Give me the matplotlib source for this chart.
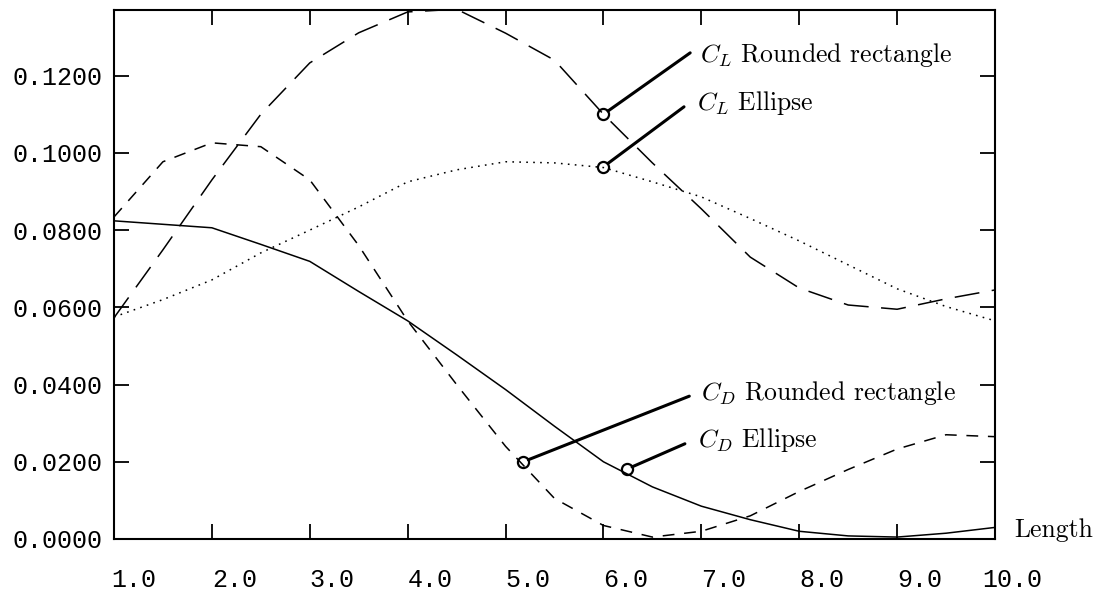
import matplotlib
matplotlib.use("Agg")
import matplotlib.pyplot as plt
import matplotlib.transforms as mtransforms

plt.rcParams['mathtext.fontset'] = 'cm'
plt.rcParams['lines.scale_dashes'] = False

# Data
length = [1.0, 1.5, 2.0, 2.5, 3.0, 3.5, 4.0, 4.5, 5.0, 5.5, 6.0, 6.5, 7.0, 7.5, 8.0, 8.5, 9.0, 9.5, 10.0]
cl_rounded = [0.0573, 0.0749, 0.0930, 0.1100, 0.1233, 0.1311, 0.1365, 0.1372, 0.1310, 0.1240, 0.1100, 0.0974, 0.0855, 0.0730, 0.0650, 0.0606, 0.0595, 0.0622, 0.0645]
cl_ellipse = [0.0575, 0.0620, 0.0671, 0.0741, 0.0800, 0.0860, 0.0925, 0.0956, 0.0977, 0.0974, 0.0962, 0.0925, 0.0886, 0.0830, 0.0772, 0.0710, 0.0648, 0.0602, 0.0565]
cd_rounded = [0.0834, 0.0977, 0.1026, 0.1016, 0.0930, 0.0760, 0.0565, 0.0400, 0.0240, 0.0105, 0.0035, 0.0005, 0.0020, 0.0060, 0.0123, 0.0180, 0.0233, 0.0270, 0.0265]
cd_ellipse = [0.0824, 0.0815, 0.0806, 0.0763, 0.0719, 0.0641, 0.0565, 0.0477, 0.0387, 0.0292, 0.0200, 0.0135, 0.0085, 0.0050, 0.0020, 0.0008, 0.0005, 0.0015, 0.0030]

x_ticks = [1, 2, 3, 4, 5, 6, 7, 8, 9, 10]
x_tick_labels = ["1.0", "2.0", "3.0", "4.0", "5.0", "6.0", "7.0", "8.0", "9.0", "10.0"]
y_ticks = [0.0, 0.02, 0.04, 0.06, 0.08, 0.10, 0.12]
y_tick_labels = ["0.0000", "0.0200", "0.0400", "0.0600", "0.0800", "0.1000", "0.1200"]

labels = [r"$C_L$ Rounded rectangle", r"$C_L$ Ellipse", r"$C_D$ Rounded rectangle", r"$C_D$ Ellipse"]
label_points_x = [6.0, 6.0, 5.18, 6.24]
label_points_y = [0.1100, 0.0964, 0.0200, 0.0181]

fig = plt.figure(figsize=(11.02, 5.94), dpi=100)
ax = fig.add_axes([114/1102, 1-539/594, 881/1102, 529/594])

lw = 1.1
ax.plot(length, cl_rounded, color='black', lw=lw, linestyle=(0, (18, 9)))
ax.plot(length, cl_ellipse, color='black', lw=lw, linestyle=(0, (1.2, 3.8)))
ax.plot(length, cd_rounded, color='black', lw=lw, linestyle=(0, (8.5, 7)))
ax.plot(length, cd_ellipse, color='black', lw=lw, linestyle='-')

ax.set_xlim(1, 10)
ax.set_ylim(0, 0.137)

ax.set_xticks(x_ticks)
ax.set_xticklabels(x_tick_labels)
ax.set_yticks(y_ticks)
ax.set_yticklabels(y_tick_labels)

mono = 'Liberation Mono'
ax.tick_params(axis='both', direction='in', length=11, width=1.3,
               top=True, right=True, labelsize=18, colors='black')
ax.tick_params(axis='x', pad=21)
ax.tick_params(axis='y', pad=8)
for lab in ax.get_xticklabels() + ax.get_yticklabels():
    lab.set_fontfamily(mono)
for lab in ax.get_xticklabels():
    lab.set_ha('left')
xl = ax.get_xticklabels()
xl[0].set_transform(xl[0].get_transform() + mtransforms.ScaledTranslation(-3/100, 0, fig.dpi_scale_trans))
xl[-1].set_transform(xl[-1].get_transform() + mtransforms.ScaledTranslation(-13/100, 0, fig.dpi_scale_trans))

for sp in ax.spines.values():
    sp.set_linewidth(1.5)

# annotation texts and leader lines (axes fraction)
text_pos = [(0.665, 0.902), (0.662, 0.811), (0.666, 0.263), (0.663, 0.174)]
line_end = [(0.654, 0.919), (0.647, 0.817), (0.653, 0.270), (0.648, 0.180)]
for lab, px, py, tp, le in zip(labels, label_points_x, label_points_y, text_pos, line_end):
    ax.plot([px], [py], marker='o', ms=8, mfc='none', mec='black', mew=1.6, clip_on=False)
    ax.annotate('', xy=(px, py), xycoords='data', xytext=le, textcoords='axes fraction',
                arrowprops=dict(arrowstyle='-', lw=2.2, color='black', shrinkA=0, shrinkB=4))
    ax.text(tp[0], tp[1], lab, transform=ax.transAxes, fontsize=18.5, family='cmr10',
            ha='left', va='baseline', color='black')

ax.text(1.0216, 0.004, "Length", transform=ax.transAxes, fontsize=18.5, family='cmr10',
        ha='left', va='baseline', color='black')

fig.savefig('out.png', dpi=100)
